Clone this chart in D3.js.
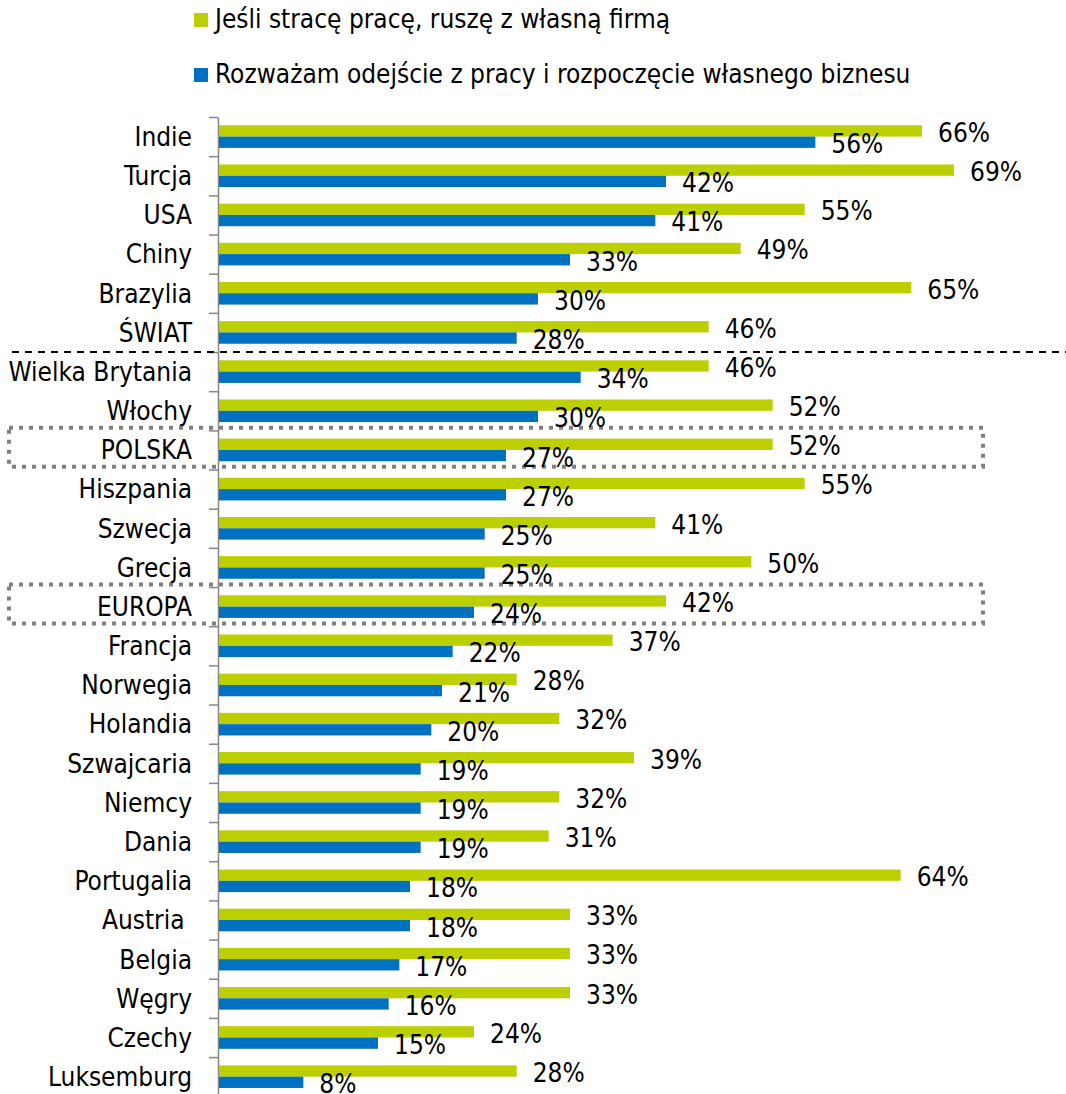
<!DOCTYPE html>
<html>
<head>
<meta charset="utf-8">
<script src="https://cdn.jsdelivr.net/npm/d3@7"></script>
<style>
  body { margin: 0; background: #fff; }
  svg text { font-family: "DejaVu Sans Condensed", "DejaVu Sans", sans-serif; fill: #000; }
</style>
</head>
<body>
<div id="chart"></div>
<script>
var categories = ['Indie', 'Turcja', 'USA', 'Chiny', 'Brazylia', 'ŚWIAT', 'Wielka Brytania', 'Włochy',
  'POLSKA', 'Hiszpania', 'Szwecja', 'Grecja', 'EUROPA', 'Francja', 'Norwegia', 'Holandia',
  'Szwajcaria', 'Niemcy', 'Dania', 'Portugalia', 'Austria ', 'Belgia', 'Węgry', 'Czechy', 'Luksemburg'];

var seriesNames = ['Jeśli stracę pracę, ruszę z własną firmą',
  'Rozważam odejście z pracy i rozpoczęcie własnego biznesu'];

var lostJob = [66, 69, 55, 49, 65, 46, 46, 52, 52, 55, 41, 50, 42, 37, 28, 32, 39, 32, 31, 64, 33, 33, 33, 24, 28];
var considerLeaving = [56, 42, 41, 33, 30, 28, 34, 30, 27, 27, 25, 25, 24, 22, 21, 20, 19, 19, 19, 18, 18, 17, 16, 15, 8];

var colors = ['#BCCF00', '#0070C0'];
var boxed = ['POLSKA', 'EUROPA'];
var separatorAfter = 'ŚWIAT';

var width = 1066, height = 1094;
var axisX = 218;

var svg = d3.select('#chart').append('svg')
  .attr('width', width)
  .attr('height', height);

var x = d3.scaleLinear().domain([0, 69]).range([axisX, 954]);

var y = d3.scaleBand()
  .domain(categories)
  .range([117, 117 + categories.length * 39.17])
  .paddingInner(0);

var ySub = d3.scaleBand()
  .domain([0, 1])
  .range([0, y.bandwidth()])
  .paddingInner(0)
  .paddingOuter(0.733);

var rows = categories.map(function(c, i) {
  return {name: c, values: [lostJob[i], considerLeaving[i]]};
});

// legend
var legend = svg.append('g').selectAll('g')
  .data(seriesNames)
  .enter()
  .append('g')
  .attr('transform', function(d, i) { return 'translate(194,' + (13 + i * 55) + ')'; });

legend.append('rect')
  .attr('width', 14)
  .attr('height', 14)
  .attr('fill', function(d, i) { return colors[i]; });

legend.append('text')
  .attr('x', 21)
  .attr('y', 15)
  .style('font-size', '26px')
  .text(function(d) { return d; });

// dotted highlight boxes
svg.append('g').selectAll('rect')
  .data(boxed)
  .enter()
  .append('rect')
  .attr('x', 9)
  .attr('y', function(d) { return y(d) - 2.5; })
  .attr('width', 974)
  .attr('height', 39)
  .attr('fill', 'none')
  .attr('stroke', '#808080')
  .attr('stroke-width', 4)
  .attr('stroke-dasharray', '4,6');

// axis with ticks at band boundaries
var idx = d3.scaleLinear().domain([0, categories.length]).range(y.range());
svg.append('g')
  .attr('transform', 'translate(' + axisX + ',0)')
  .call(d3.axisLeft(idx)
    .tickValues(d3.range(0, categories.length + 1))
    .tickFormat('')
    .tickSize(9)
    .tickSizeOuter(0))
  .call(function(g) {
    g.selectAll('line, path').attr('stroke', '#868686').attr('stroke-width', 1.5);
  });

// separator line
svg.append('line')
  .attr('x1', 12)
  .attr('x2', width)
  .attr('y1', y(separatorAfter) + y.bandwidth())
  .attr('y2', y(separatorAfter) + y.bandwidth())
  .attr('stroke', '#000')
  .attr('stroke-width', 2)
  .attr('stroke-dasharray', '7,6');

// category labels
svg.append('g').selectAll('text')
  .data(categories)
  .enter()
  .append('text')
  .attr('x', 192)
  .attr('y', function(d) { return y(d) + y.bandwidth() / 2; })
  .attr('dy', '0.36em')
  .attr('text-anchor', 'end')
  .style('font-size', '26px')
  .style('white-space', 'pre')
  .text(function(d) { return d; });

// bars
var groups = svg.append('g').selectAll('g')
  .data(rows)
  .enter()
  .append('g')
  .attr('transform', function(d) { return 'translate(0,' + y(d.name) + ')'; });

groups.selectAll('rect')
  .data(function(d) { return d.values; })
  .enter()
  .append('rect')
  .attr('x', x(0) + 1)
  .attr('y', function(d, i) { return ySub(i); })
  .attr('width', function(d) { return x(d) - x(0) - 1; })
  .attr('height', ySub.bandwidth())
  .attr('fill', function(d, i) { return colors[i]; });

groups.selectAll('text')
  .data(function(d) { return d.values; })
  .enter()
  .append('text')
  .attr('x', function(d) { return x(d) + 16; })
  .attr('y', function(d, i) { return ySub(i) + ySub.bandwidth() / 2; })
  .attr('dy', '0.42em')
  .style('font-size', '26px')
  .text(function(d) { return d + '%'; });
</script>
</body>
</html>
